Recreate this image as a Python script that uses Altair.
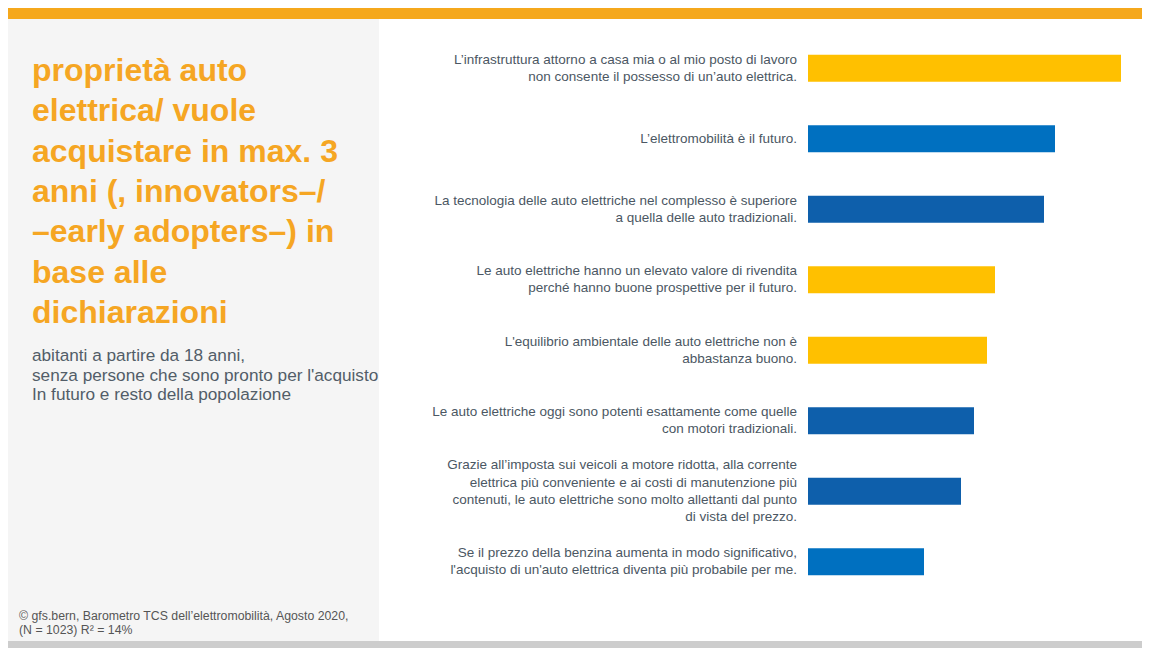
import altair as alt
import pandas as pd

# ---- data -------------------------------------------------------------
labels = [
    "L’infrastruttura attorno a casa mia o al mio posto di lavoro|non consente il possesso di un’auto elettrica.",
    "L’elettromobilità è il futuro.",
    "La tecnologia delle auto elettriche nel complesso è superiore|a quella delle auto tradizionali.",
    "Le auto elettriche hanno un elevato valore di rivendita|perché hanno buone prospettive per il futuro.",
    "L'equilibrio ambientale delle auto elettriche non è|abbastanza buono.",
    "Le auto elettriche oggi sono potenti esattamente come quelle|con motori tradizionali.",
    "Grazie all’imposta sui veicoli a motore ridotta, alla corrente|elettrica più conveniente e ai costi di manutenzione più|contenuti, le auto elettriche sono molto allettanti dal punto|di vista del prezzo.",
    "Se il prezzo della benzina aumenta in modo significativo,|l'acquisto di un'auto elettrica diventa più probabile per me.",
]
values = [31.3, 24.7, 23.6, 18.7, 17.9, 16.6, 15.3, 11.6]
groups = ["A", "B", "C", "A", "A", "C", "C", "B"]

group_domain = ["A", "B", "C"]
group_colors = ["#FFC000", "#0070C0", "#0E5FAB"]

title_text = ("proprietà auto\nelettrica/ vuole\nacquistare in max. 3\n"
              "anni (, innovators–/\n–early adopters–) in\nbase alle\ndichiarazioni")
subtitle_text = ("abitanti a partire da 18 anni,\n"
                 "senza persone che sono pronto per l'acquisto\n"
                 "In futuro e resto della popolazione")
source_text = ("©  gfs.bern, Barometro TCS dell’elettromobilità, Agosto 2020,\n"
               "(N = 1023) R² = 14%")

# ---- tables -----------------------------------------------------------
W, H = 1134, 640
LINE_STEP = 17.3 / 70.5  # one text line, in category units

df = pd.DataFrame({"label": labels, "valore": values, "gruppo": groups})

line_rows = []
for i, lab in enumerate(labels):
    parts = lab.split("|")
    n = len(parts)
    for j, part in enumerate(parts):
        line_rows.append({"riga": part, "pos": i + (j - (n - 1) / 2) * LINE_STEP})
lines_df = pd.DataFrame(line_rows)

one = pd.DataFrame({"k": [0]})

# ---- layers -----------------------------------------------------------
ysc = alt.Scale(domain=labels, range=[25, 589], paddingInner=0.617, paddingOuter=0.3085)
ylin = alt.Scale(domain=[-0.5, len(labels) - 0.5], range=[25, 589])
xsc = alt.Scale(domain=[0, 31.3], range=[800, 1113])

top_bar = alt.Chart(one).mark_rect(color="#F5A81C").encode(
    x=alt.value(0), x2=alt.value(W), y=alt.value(0), y2=alt.value(11))
panel = alt.Chart(one).mark_rect(color="#F5F5F5").encode(
    x=alt.value(0), x2=alt.value(371), y=alt.value(11), y2=alt.value(633))
bottom_bar = alt.Chart(one).mark_rect(color="#CDCDCD").encode(
    x=alt.value(0), x2=alt.value(W), y=alt.value(633), y2=alt.value(640))

title = alt.Chart(one).mark_text(
    align="left", baseline="alphabetic", lineBreak="\n", fontSize=32,
    fontWeight="bold", lineHeight=40.3, color="#F5A623", font="Liberation Sans",
).encode(x=alt.value(24), y=alt.value(73), text=alt.value(title_text))

subtitle = alt.Chart(one).mark_text(
    align="left", baseline="alphabetic", lineBreak="\n", fontSize=17.2,
    lineHeight=19.7, color="#525D68", font="Liberation Sans"
).encode(x=alt.value(24), y=alt.value(353), text=alt.value(subtitle_text))

source = alt.Chart(one).mark_text(
    align="left", baseline="alphabetic", lineBreak="\n", fontSize=12.3,
    lineHeight=14, color="#555555", font="Liberation Sans"
).encode(x=alt.value(11), y=alt.value(612), text=alt.value(source_text))

bars = alt.Chart(df).mark_bar().encode(
    y=alt.Y("label:N", scale=ysc, axis=None, sort=None),
    x=alt.X("valore:Q", scale=xsc, axis=None),
    color=alt.Color("gruppo:N", scale=alt.Scale(domain=group_domain, range=group_colors), legend=None),
)

bar_labels = alt.Chart(lines_df).mark_text(
    align="right", baseline="middle", fontSize=13.5,
    color="#4B5763", font="Liberation Sans"
).encode(
    y=alt.Y("pos:Q", scale=ylin, axis=None),
    x=alt.value(789),
    text="riga:N",
)

chart = alt.layer(top_bar, panel, bottom_bar, title, subtitle, source, bars, bar_labels).resolve_scale(
    y="independent"
).properties(
    width=W, height=H, padding=0, autosize=alt.AutoSizeParams(type="none"),
    background="white",
).configure_view(stroke=None)

chart.save("out.html", embed_options={"renderer": "svg", "actions": False})
